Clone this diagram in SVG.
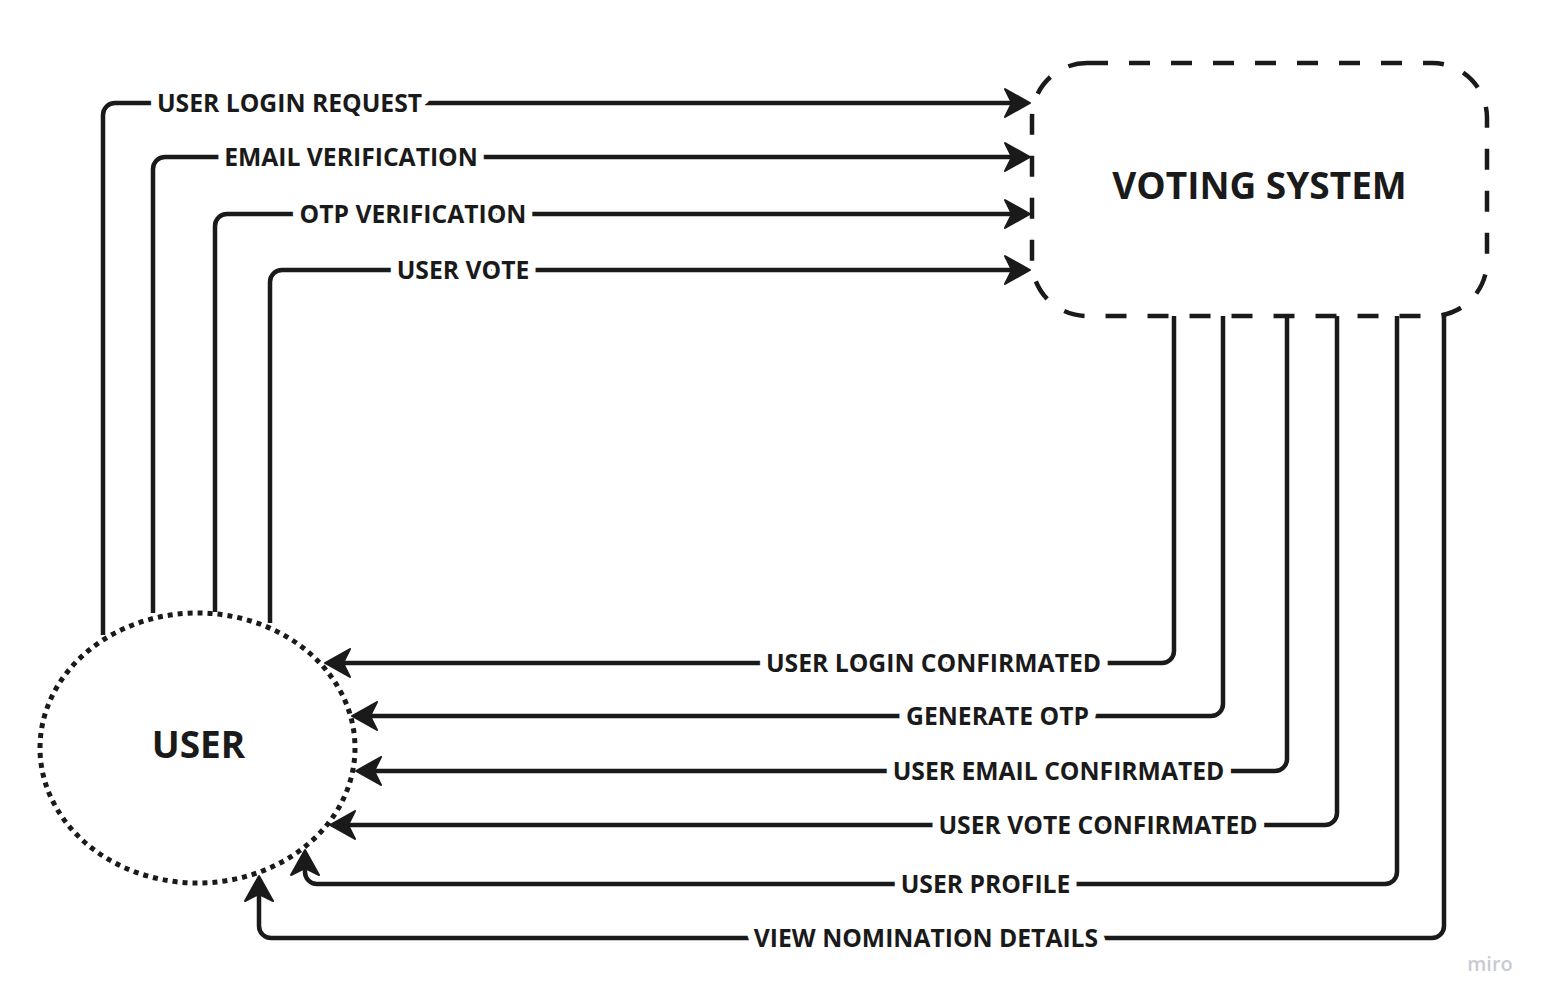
<svg xmlns="http://www.w3.org/2000/svg" width="1550" height="1007" viewBox="0 0 1550 1007">
  <style>
    .conn { fill: none; stroke: #1a1a1a; stroke-width: 4.5; stroke-linejoin: round; }
    .lbl { font-family: "Open Sans", "Liberation Sans", sans-serif; font-weight: 700; font-size: 24.7px; fill: #1a1a1a; text-anchor: middle; stroke: #ffffff; stroke-width: 16; stroke-linejoin: round; paint-order: stroke; }
    .title { font-family: "Open Sans", "Liberation Sans", sans-serif; font-weight: 700; font-size: 37px; fill: #1a1a1a; text-anchor: middle; }
  </style>
  <defs>
    <marker id="arrow" markerUnits="userSpaceOnUse" viewBox="-10 -18 32 36" refX="0" refY="0" markerWidth="32" markerHeight="36" orient="auto" overflow="visible">
      <path d="M18,0 L-7,-14 L0,0 L-7,14 Z" fill="#1a1a1a" stroke="#1a1a1a" stroke-width="2" stroke-linejoin="round"/>
    </marker>
  </defs>
  <rect width="1550" height="1007" fill="#ffffff"/>

  <g id="voting-system">
    <rect x="1032" y="63" width="455" height="253" rx="55" ry="55" fill="#ffffff" stroke="#1a1a1a" stroke-width="4.5" stroke-dasharray="21 21"/>
    <text class="title" x="1259.5" y="199">VOTING SYSTEM</text>
  </g>

  <g id="user">
    <ellipse cx="197.5" cy="748" rx="157.5" ry="135" fill="#ffffff" stroke="#1a1a1a" stroke-width="5" stroke-dasharray="5 5"/>
    <text class="title" x="198.5" y="758">USER</text>
  </g>

  <g id="connectors">
    <path class="conn" marker-end="url(#arrow)" d="M103,635 V115 A12,12 0 0 1 115,103 H1012"/>
    <path class="conn" marker-end="url(#arrow)" d="M153,613 V169 A12,12 0 0 1 165,157 H1012"/>
    <path class="conn" marker-end="url(#arrow)" d="M215,612 V226 A12,12 0 0 1 227,214 H1012"/>
    <path class="conn" marker-end="url(#arrow)" d="M270,623 V282 A12,12 0 0 1 282,270 H1012"/>

    <path class="conn" marker-end="url(#arrow)" d="M1174,316 V651 A12,12 0 0 1 1162,663 H343"/>
    <path class="conn" marker-end="url(#arrow)" d="M1223,316 V704 A12,12 0 0 1 1211,716 H370"/>
    <path class="conn" marker-end="url(#arrow)" d="M1287,316 V759 A12,12 0 0 1 1275,771 H374"/>
    <path class="conn" marker-end="url(#arrow)" d="M1337,316 V813 A12,12 0 0 1 1325,825 H348"/>
    <path class="conn" marker-end="url(#arrow)" d="M1397,316 V872 A12,12 0 0 1 1385,884 H317 A12,12 0 0 1 305,872 V868"/>
    <path class="conn" marker-end="url(#arrow)" d="M1444,313 V926 A12,12 0 0 1 1432,938 H271 A12,12 0 0 1 259,926 V894"/>

    <text class="lbl" x="289.5" y="112">USER LOGIN REQUEST</text>
    <text class="lbl" x="351" y="166">EMAIL VERIFICATION</text>
    <text class="lbl" x="413" y="223">OTP VERIFICATION</text>
    <text class="lbl" x="463" y="279">USER VOTE</text>

    <text class="lbl" x="933.5" y="672">USER LOGIN CONFIRMATED</text>
    <text class="lbl" x="997.5" y="725">GENERATE OTP</text>
    <text class="lbl" x="1058.5" y="780">USER EMAIL CONFIRMATED</text>
    <text class="lbl" x="1098" y="834">USER VOTE CONFIRMATED</text>
    <text class="lbl" x="985.5" y="893">USER PROFILE</text>
    <text class="lbl" x="926" y="947">VIEW NOMINATION DETAILS</text>
  </g>

  <text x="1490" y="971" font-family="Open Sans, Liberation Sans, sans-serif" font-size="20" font-weight="600" fill="#c9cbd3" text-anchor="middle">miro</text>
</svg>
